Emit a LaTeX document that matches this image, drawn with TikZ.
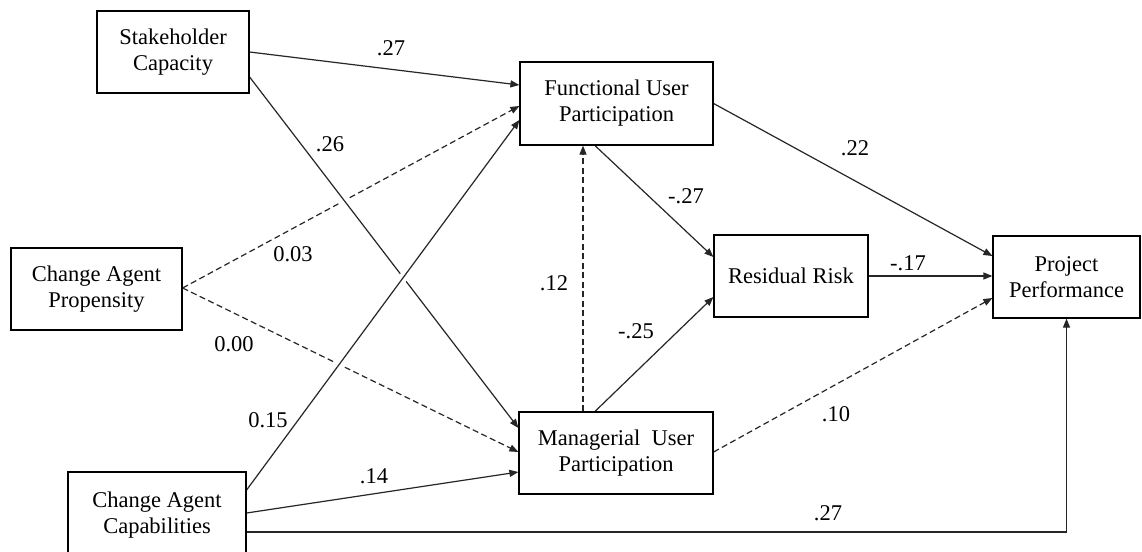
\documentclass[tikz,border=0pt]{standalone}
\usepackage{fontspec}
\setmainfont{Liberation Serif}
\usetikzlibrary{arrows.meta,calc,backgrounds}
\begin{document}
\begin{tikzpicture}[x=1pt,y=-1pt,
  box/.style={draw=black,line width=1.2pt,rectangle,inner sep=0pt,align=center,font=\fontsize{22.5}{26}\selectfont},
  lbl/.style={inner sep=0pt,font=\fontsize{22.5}{26}\selectfont},
  conn/.style={line width=1.2pt,draw=black!85,-{Triangle[length=9pt,width=7pt]}},
  dsh/.style={conn,dash pattern=on 6pt off 3.5pt},
  halo/.style={preaction={draw=white,line width=9pt,-}}]
\useasboundingbox (0,0) rectangle (1142,551);
% boxes
\node[box,minimum width=152pt,minimum height=82pt] (sc) at (173,52) {Stakeholder\\Capacity};
\node[box,minimum width=193pt,minimum height=83pt] (fup) at (616.5,103.5) {Functional User\\Participation};
\node[box,minimum width=171pt,minimum height=82pt] (prop) at (96.5,289) {Change Agent\\Propensity};
\node[box,minimum width=178pt,minimum height=86pt] (cap) at (157,515) {Change Agent\\Capabilities};
\node[box,minimum width=194pt,minimum height=82pt] (mup) at (616,453) {Managerial\ \ User\\Participation};
\node[box,minimum width=154pt,minimum height=82pt] (rr) at (791,276) {Residual Risk};
\node[box,minimum width=147pt,minimum height=82pt] (pp) at (1066.5,277) {Project\\Performance};
% labels
\node[lbl] (l1) at (391,48) {.27};
\node[lbl] (l2) at (330,144) {.26};
\node[lbl] (l3) at (293,254) {0.03};
\node[lbl] (l4) at (234,344) {0.00};
\node[lbl] (l5) at (268,420) {0.15};
\node[lbl] (l6) at (374,476) {.14};
\node[lbl] (l7) at (554,283) {.12};
\node[lbl] (l8) at (686,196) {-.27};
\node[lbl] (l9) at (855,148) {.22};
\node[lbl] (l10) at (908,263) {-.17};
\node[lbl] (l11) at (636,331) {-.25};
\node[lbl] (l12) at (836,414) {.10};
\node[lbl] (l13) at (828,513) {.27};
\coordinate (vs) at ($(mup.north)+(-33,0)$);
% connectors
\begin{scope}[on background layer]
\fill[white] (0,0) rectangle (1142,551);
\draw[dsh] ($(prop.east)+(0,-1)$) -- ($(fup.west)+(0,2.5)$);
\draw[dsh] ($(prop.east)+(0,-1)$) -- ($(mup.west)+(0,-1)$);
\draw[conn] (sc.east) -- ($(fup.west)+(0,-18.5)$);
\draw[conn,halo] ($(sc.east)+(0,25)$) -- ($(mup.west)+(0,-25)$);
\draw[conn,halo] ($(cap.east)+(0,-25)$) -- ($(fup.west)+(0,16.5)$);
\draw[conn] ($(cap.east)+(0,-2)$) -- ($(mup.west)+(0,19)$);
\draw[conn] ($(cap.east)+(0,17)$) -| (pp.south);
\draw[dsh] (vs) -- (vs |- fup.south);
\draw[conn] ($(fup.south)+(-21.5,0)$) -- ($(rr.west)+(0,-19)$);
\draw[conn] ($(mup.north)+(-21,0)$) -- ($(rr.west)+(0,21)$);
\draw[conn] (fup.east) -- ($(pp.west)+(0,-21)$);
\draw[conn] (rr.east) -- ($(pp.west)+(0,-1)$);
\draw[dsh] ($(mup.east)+(0,-1)$) -- ($(pp.west)+(0,21)$);
\end{scope}
\end{tikzpicture}
\end{document}
